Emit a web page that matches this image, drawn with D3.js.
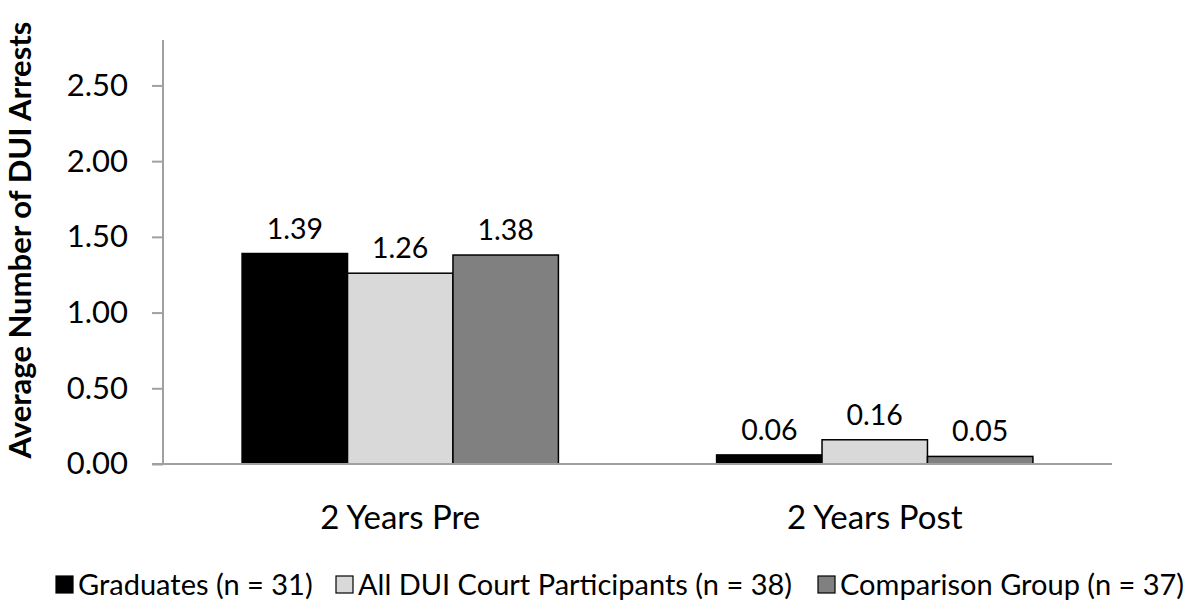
<!DOCTYPE html>
<html>
<head>
<meta charset="utf-8">
<script src="https://cdn.jsdelivr.net/npm/d3@7"></script>
<style>
  html, body { margin: 0; padding: 0; background: #fff; }
  svg { display: block; font-family: Lato, "Open Sans", sans-serif; }
</style>
</head>
<body>
<svg id="chart" width="1199" height="613"></svg>
<script>
const categories = ["2 Years Pre", "2 Years Post"];
const seriesNames = ["Graduates (n = 31)", "All DUI Court Participants (n = 38)", "Comparison Group (n = 37)"];
const graduates = [1.39, 0.06];
const allParticipants = [1.26, 0.16];
const comparison = [1.38, 0.05];
const yTicks = [0, 0.5, 1.0, 1.5, 2.0, 2.5];
const yTitle = "Average Number of DUI Arrests";
const colors = ["#000000", "#d9d9d9", "#808080"];

const seriesValues = [graduates, allParticipants, comparison];
const svg = d3.select("#chart");
const margin = { left: 163, right: 87, top: 40, bottom: 149 };
const W = 1199, H = 613;
const x0 = d3.scaleBand().domain(categories).range([margin.left, W - margin.right]).paddingInner(0).paddingOuter(0);
const x1 = d3.scaleBand().domain(d3.range(3)).range([0, x0.bandwidth()]).paddingOuter(0.75).paddingInner(0);
const y = d3.scaleLinear().domain([0, 2.8]).range([H - margin.bottom, margin.top]);

// bars
categories.forEach((c, ci) => {
  const g = svg.append("g").attr("transform", `translate(${x0(c)},0)`);
  seriesValues.forEach((vals, si) => {
    g.append("rect")
      .attr("x", x1(si))
      .attr("y", y(vals[ci]))
      .attr("width", x1.bandwidth())
      .attr("height", y(0) - y(vals[ci]))
      .attr("fill", colors[si])
      .attr("stroke", "#000")
      .attr("stroke-width", 1.5);
    g.append("text")
      .attr("x", x1(si) + x1.bandwidth() / 2)
      .attr("y", y(vals[ci]) - 15)
      .attr("text-anchor", "middle")
      .attr("font-size", 28.5)
      .attr("fill", "#000")
      .text(vals[ci].toFixed(2));
  });
});

// y axis
const yAxis = d3.axisLeft(y).tickValues(yTicks).tickFormat(d3.format(".2f")).tickSize(11).tickPadding(24);
const ya = svg.append("g").attr("transform", `translate(${margin.left},0)`).call(yAxis);
ya.select(".domain").attr("stroke", "#a0a0a0").attr("stroke-width", 2).attr("d", `M0,${y(2.8)}V${y(0)}`);
ya.selectAll(".tick line").attr("stroke", "#a0a0a0").attr("stroke-width", 2);
ya.selectAll(".tick text").attr("font-size", 31).attr("fill", "#000").attr("font-family", "Lato");

// x axis
const xAxis = d3.axisBottom(x0).tickSize(0).tickPadding(42);
const xa = svg.append("g").attr("transform", `translate(0,${y(0)})`).call(xAxis);
xa.select(".domain").attr("stroke", "#a0a0a0").attr("stroke-width", 2).attr("d", `M${margin.left - 11},0H${W - margin.right}`);
xa.selectAll(".tick text").attr("font-size", 33).attr("fill", "#000").attr("font-family", "Lato");

// y title
svg.append("text")
  .attr("transform", `translate(31,240) rotate(-90)`)
  .attr("text-anchor", "middle")
  .attr("font-size", 31)
  .attr("font-weight", "bold")
  .attr("fill", "#000")
  .text(yTitle);

// legend
const legendX = [56, 336, 818];
const lg = svg.append("g").attr("transform", "translate(0,584)");
seriesNames.forEach((n, i) => {
  lg.append("rect").attr("x", legendX[i]).attr("y", -8).attr("width", 17).attr("height", 17)
    .attr("fill", colors[i]).attr("stroke", "#000").attr("stroke-width", 1.2);
  lg.append("text").attr("x", legendX[i] + 22).attr("y", 11).attr("font-size", 29).attr("fill", "#000").text(n);
});
</script>
</body>
</html>
